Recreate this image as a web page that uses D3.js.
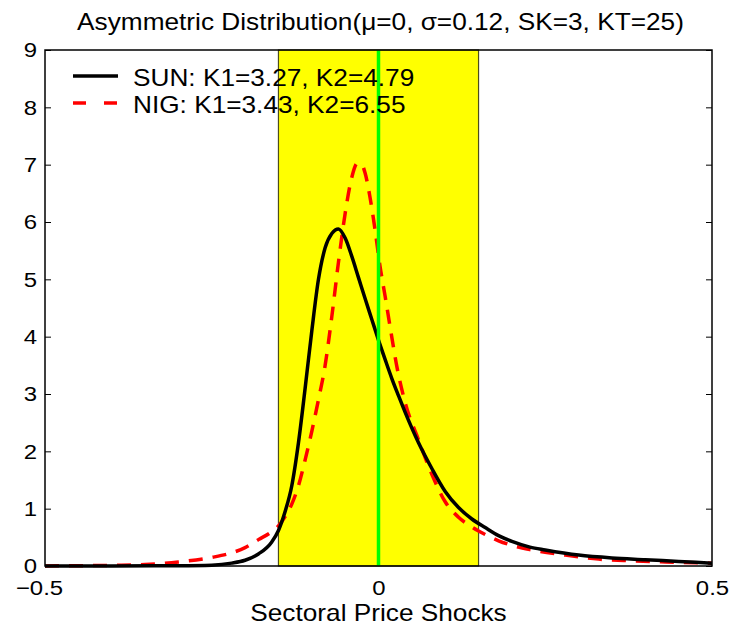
<!DOCTYPE html>
<meta charset="utf-8">
<style>
body { margin: 0; background: #fff; }
svg text { font-family: "Liberation Sans", Arial, sans-serif; fill: #000; }
.axis path { display: none; }
.axis line { stroke: #000; stroke-width: 1; }
</style>
<body>
<div id="chart"></div>
<script src="https://d3js.org/d3.v7.min.js"></script>
<script>

// values
var sunX = [-0.5, -0.4, -0.3, -0.25, -0.22, -0.2, -0.18, -0.16, -0.15, -0.14, -0.13, -0.12, -0.11, -0.1,
            -0.09, -0.08, -0.07, -0.06, -0.05, -0.04, -0.03, -0.02, -0.01, 0, 0.01, 0.02, 0.03, 0.04,
            0.06, 0.08, 0.1, 0.12, 0.14, 0.16, 0.18, 0.2, 0.227, 0.25, 0.3, 0.35, 0.4, 0.45, 0.5];
var sunY = [0, 0.001, 0.005, 0.015, 0.05, 0.1, 0.21, 0.42, 0.62, 0.95, 1.4, 2.15, 3.1, 4.1,
            5.0, 5.55, 5.8, 5.88, 5.72, 5.4, 5.03, 4.66, 4.3, 3.94, 3.6, 3.27, 2.97, 2.68,
            2.15, 1.7, 1.3, 1.02, 0.82, 0.67, 0.53, 0.43, 0.33, 0.28, 0.19, 0.14, 0.11, 0.08, 0.05];

var nigX = [-0.5, -0.45, -0.4, -0.35, -0.3, -0.25, -0.22, -0.2, -0.18, -0.16, -0.15, -0.14, -0.13, -0.12,
            -0.11, -0.1, -0.09, -0.08, -0.07, -0.06, -0.05, -0.04, -0.032, -0.025, -0.02, -0.013,
            -0.005, 0.002, 0.01, 0.017, 0.028, 0.04, 0.06, 0.08, 0.1, 0.12, 0.14, 0.16, 0.18, 0.2,
            0.23, 0.28, 0.33, 0.38, 0.43, 0.5];
var nigY = [0.002, 0.005, 0.012, 0.025, 0.07, 0.15, 0.23, 0.32, 0.46, 0.6, 0.7, 0.86, 1.08, 1.4,
            1.85, 2.35, 2.9, 3.5, 4.35, 5.3, 6.15, 6.78, 7.02, 7.0, 6.85, 6.45,
            5.85, 5.25, 4.7, 4.2, 3.45, 2.85, 2.2, 1.6, 1.12, 0.85, 0.68, 0.55, 0.44, 0.36,
            0.28, 0.19, 0.12, 0.09, 0.07, 0.05];

var bandX   = [-0.15, 0.15];   // shaded region
var markerX = 0;               // vertical green line

var xTicks = [-0.5, 0, 0.5];
var xTickLabels = ["\u22120.5", "0", "0.5"];
var yTicks = [0, 1, 2, 3, 4, 5, 6, 7, 8, 9];

var titleText  = "Asymmetric Distribution(\u03bc=0, \u03c3=0.12, SK=3, KT=25)";
var xLabelText = "Sectoral Price Shocks";
var legendNames = ["SUN: K1=3.27, K2=4.79", "NIG: K1=3.43, K2=6.55"];

var chartWidth = 734, chartHeight = 626;
var margin = {top: 50, right: 22, bottom: 60, left: 45},
    width  = chartWidth - margin.left - margin.right,
    height = chartHeight - margin.top - margin.bottom;

var stretch = 1.14; // text in the original is a bit wider than normal

var svg = d3.select("#chart").append("svg")
    .attr("width", chartWidth)
    .attr("height", chartHeight);

var g = svg.append("g")
    .attr("transform", "translate(" + margin.left + "," + margin.top + ")");

var x = d3.scaleLinear().domain([-0.5, 0.5]).range([0, width]);
var y = d3.scaleLinear().domain([0, 9]).range([height, 0]);

// yellow band
g.append("rect")
    .attr("x", x(bandX[0]))
    .attr("y", 0)
    .attr("width", x(bandX[1]) - x(bandX[0]))
    .attr("height", height)
    .attr("fill", "#ffff00")
    .attr("stroke", "#4d4d1a")
    .attr("stroke-width", 1.2);

var line = d3.line()
    .x(d => x(d[0]))
    .y(d => y(d[1]))
    .curve(d3.curveMonotoneX);

g.append("path")
    .datum(nigX.map((v, i) => [v, nigY[i]]))
    .attr("d", line)
    .attr("fill", "none")
    .attr("stroke", "#ff0000")
    .attr("stroke-width", 3.5)
    .attr("stroke-dasharray", "14,10");

g.append("path")
    .datum(sunX.map((v, i) => [v, sunY[i]]))
    .attr("d", line)
    .attr("fill", "none")
    .attr("stroke", "#000")
    .attr("stroke-width", 3.5);

g.append("line")
    .attr("x1", x(markerX)).attr("x2", x(markerX))
    .attr("y1", 0).attr("y2", height)
    .attr("stroke", "#00ff00")
    .attr("stroke-width", 3.5);

// axes
var yAxisL = g.append("g").attr("class", "axis")
    .call(d3.axisLeft(y).tickValues(yTicks).tickSizeInner(-6).tickSizeOuter(0).tickPadding(8));
var yAxisR = g.append("g").attr("class", "axis")
    .attr("transform", "translate(" + width + ",0)")
    .call(d3.axisRight(y).tickValues(yTicks).tickSizeInner(-6).tickSizeOuter(0).tickFormat(""));
var xAxis = g.append("g").attr("class", "axis")
    .attr("transform", "translate(0," + height + ")")
    .call(d3.axisBottom(x).tickValues(xTicks).tickSize(0).tickPadding(14)
        .tickFormat((d, i) => xTickLabels[i]));

yAxisL.selectAll("text")
    .style("font-size", "21px")
    .attr("font-family", null)
    .attr("transform", "scale(" + stretch + ",1)")
    .attr("x", -8 / stretch);
xAxis.selectAll("text")
    .style("font-size", "21px")
    .attr("font-family", null)
    .attr("transform", (d, i) => "translate(" + (i === 0 ? -6 : 0) + ",0) scale(" + stretch + ",1)");

// frame
g.append("rect")
    .attr("width", width)
    .attr("height", height)
    .attr("fill", "none")
    .attr("stroke", "#000")
    .attr("stroke-width", 1.5);

function addText(parent, tx, ty, txt, size, anchor) {
    return parent.append("text")
        .attr("transform", "translate(" + tx + "," + ty + ") scale(" + stretch + ",1)")
        .attr("text-anchor", anchor)
        .style("font-size", size + "px")
        .text(txt);
}

addText(svg, margin.left + x(0) + 2, 30, titleText, 23, "middle");
addText(svg, margin.left + x(0), 621, xLabelText, 23, "middle");

// legend
var legendStyles = [
    {stroke: "#000", dash: null},
    {stroke: "#ff0000", dash: "13,18"}
];
var legend = g.append("g").attr("transform", "translate(28,26)");
legendNames.forEach(function(name, i) {
    legend.append("line")
        .attr("x1", 0).attr("x2", 45)
        .attr("y1", i * 27).attr("y2", i * 27)
        .attr("stroke", legendStyles[i].stroke)
        .attr("stroke-width", 3.5)
        .attr("stroke-dasharray", legendStyles[i].dash);
    addText(legend, 60, i * 27 + 10, name, 23, "start");
});

</script>
